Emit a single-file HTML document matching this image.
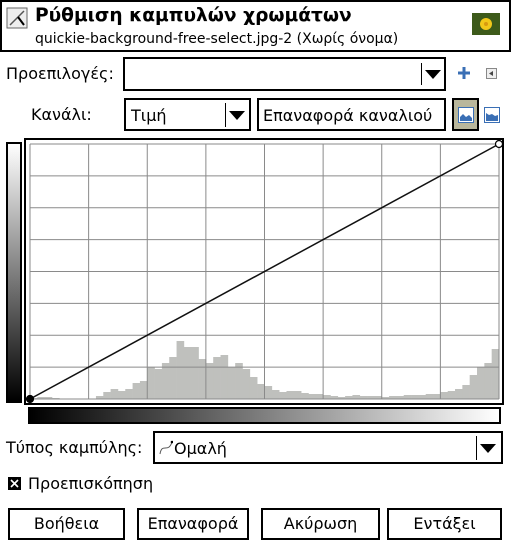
<!DOCTYPE html>
<html><head><meta charset="utf-8">
<style>
*{box-sizing:border-box;margin:0;padding:0}
body{width:511px;height:548px;background:#fff;font-family:"DejaVu Sans","Liberation Sans",sans-serif;color:#000;position:relative;overflow:hidden}
.a{position:absolute}
.box{position:absolute;border:2px solid #000;background:#fff}
.lbl{position:absolute;font-size:16px;white-space:nowrap}
.arrow{position:absolute;width:0;height:0;border-left:8px solid transparent;border-right:8px solid transparent;border-top:9px solid #000}
.btn{position:absolute;border:2px solid #000;background:#fff;font-size:16px;text-align:center;line-height:28px;top:508px;height:32px}
</style></head><body>
<div class="a" style="left:0;top:0;width:511px;height:52px;border:2px solid #000">
  <svg class="a" style="left:4px;top:5px" width="22" height="22"><rect x="1" y="1" width="20" height="20" fill="#eee" stroke="#666"/><path d="M4 18 L18 4" stroke="#555" stroke-width="1.5"/><path d="M12 10 L18 18" stroke="#000" stroke-width="2"/></svg>
  <div class="lbl" style="left:33px;top:3px;font-size:18.6px;font-weight:bold">Ρύθμιση καμπυλών χρωμάτων</div>
  <div class="lbl" style="left:33px;top:29px;font-size:14px">quickie-background-free-select.jpg-2 (Χωρίς όνομα)</div>
  <svg class="a" style="left:470px;top:11px" width="28" height="22"><rect width="28" height="22" fill="#3d5a1a"/><circle cx="14" cy="11" r="6" fill="#f2c81a"/><circle cx="14" cy="11" r="2" fill="#d89a10"/></svg>
</div>

<div class="lbl" style="left:6px;top:64px">Προεπιλογές:</div>
<div class="box" style="left:123px;top:57px;width:323px;height:34px">
  <div class="a" style="left:296px;top:4px;width:1px;height:22px;background:#000"></div>
  <div class="arrow" style="left:300px;top:11px"></div>
</div>
<svg class="a" style="left:457px;top:66px" width="14" height="14"><path d="M7 1V13M1 7H13" stroke="#3a6fb5" stroke-width="3"/></svg>
<svg class="a" style="left:486px;top:68px" width="11" height="11"><rect x=".5" y=".5" width="10" height="10" fill="#eee" stroke="#888"/><path d="M7 3 L3 5.5 L7 8Z" fill="#444"/></svg>

<div class="lbl" style="left:31px;top:105px">Κανάλι:</div>
<div class="box" style="left:124px;top:98px;width:127px;height:33px">
  <div class="lbl" style="left:5px;top:6px">Τιμή</div>
  <div class="a" style="left:99px;top:3px;width:1px;height:24px;background:#000"></div>
  <div class="arrow" style="left:103px;top:11px"></div>
</div>
<div class="box" style="left:257px;top:98px;width:189px;height:33px"><div class="lbl" style="left:4px;top:6px">Επαναφορά καναλιού</div></div>
<div class="a" style="left:452px;top:98px;width:27px;height:33px;background:#b9b79c;border:2px solid #000">
  <svg class="a" style="left:4px;top:7px" width="16" height="16"><rect x=".5" y=".5" width="15" height="15" fill="#fff" stroke="#3a6fb5"/><path d="M2 14V10L5 7L8 10L11 8L14 11V14Z" fill="#3a6fb5"/></svg>
</div>
<svg class="a" style="left:484px;top:107px" width="16" height="16"><rect x=".5" y=".5" width="15" height="15" fill="#fff" stroke="#3a6fb5"/><path d="M2 14V6L5 8L8 7L11 9L14 8V14Z" fill="#3a6fb5"/></svg>

<div class="a" style="left:6px;top:142px;width:16px;height:261px;border:2px solid #000;background:linear-gradient(#fff,#000)"></div>
<div class="a" style="left:28px;top:407px;width:473px;height:17px;border:2px solid #000;background:linear-gradient(90deg,#000,#fff)"></div>

<svg class="a" id="chart" style="left:0;top:0" width="511" height="430"></svg>

<div class="lbl" style="left:6px;top:438px">Τύπος καμπύλης:</div>
<div class="box" style="left:153px;top:431px;width:350px;height:33px">
  <svg class="a" style="left:4px;top:7px" width="14" height="16"><path d="M1 14C3 2 9 14 13 2" stroke="#555" fill="none"/><circle cx="13" cy="2" r="1.3" fill="#000"/></svg>
  <div class="lbl" style="left:19px;top:6px">Ομαλή</div>
  <div class="a" style="left:321px;top:3px;width:1px;height:24px;background:#000"></div>
  <div class="arrow" style="left:325px;top:11px"></div>
</div>
<div class="a" style="left:8px;top:477px;width:13px;height:13px;background:#000">
  <svg class="a" style="left:2px;top:2px" width="9" height="9"><path d="M1 1L8 8M8 1L1 8" stroke="#fff" stroke-width="1.6"/></svg>
</div>
<div class="lbl" style="left:28px;top:474px">Προεπισκόπηση</div>

<div class="btn" style="left:8px;width:117px">Βοήθεια</div>
<div class="btn" style="left:137px;width:112px">Επαναφορά</div>
<div class="btn" style="left:261px;width:119px">Ακύρωση</div>
<div class="btn" style="left:387px;width:115px">Εντάξει</div>

<script>
const histogram=[1,2,2,1,0,0,0,0,0.5,3,7,10,8,10,16,18,32,30,36,42,58,52,52,40,36,42,44,32,36,30,22,15,13,9,7,8,8,6,5,5,4,3,2,3,4,3,3,3,2,3,3,4,4,4,5,5,7,8,10,14,24,32,36,50];
const curvePoints=[[0,0],[255,255]];
const gridDivisions=8;
const NS="http://www.w3.org/2000/svg";
const svg=document.getElementById('chart');
const X0=30,X1=499,Y0=399,Y1=144;
const xs=v=>X0+(v/255)*(X1-X0);
const ys=v=>Y0-(v/255)*(Y0-Y1);
function mk(t,a){const e=document.createElementNS(NS,t);for(const k in a)e.setAttribute(k,a[k]);svg.appendChild(e);return e;}
const frame=mk('rect',{x:25,y:139,width:478,height:265,fill:'#fff',stroke:'#000','stroke-width':2});


const bw=(X1-X0)/histogram.length;
histogram.forEach((h,i)=>{
  const r=mk('rect',{x:X0+i*bw,y:Y0-h,width:bw+0.3,height:h,fill:'#bfc0bd'});
  
  
});
for(let i=0;i<=gridDivisions;i++){
  const gx=X0+i*(X1-X0)/gridDivisions, gy=Y1+i*(Y0-Y1)/gridDivisions;
  const v=mk('line',{x1:gx,y1:Y1,x2:gx,y2:Y0,stroke:'#8a8a8a','stroke-width':1});
  
  
  const h=mk('line',{x1:X0,y1:gy,x2:X1,y2:gy,stroke:'#8a8a8a','stroke-width':1});
  
  
}
const line=mk('polyline',{points:curvePoints.map(p=>xs(p[0])+','+ys(p[1])).join(' '),fill:'none',stroke:'#111','stroke-width':1.5});


curvePoints.forEach((p,i)=>{
  const c=mk('circle',{cx:xs(p[0]),cy:ys(p[1]),r:3.5,fill:i==0?'#000':'#fff',stroke:'#000','stroke-width':1.2});
  
  
});
</script>
</body></html>
